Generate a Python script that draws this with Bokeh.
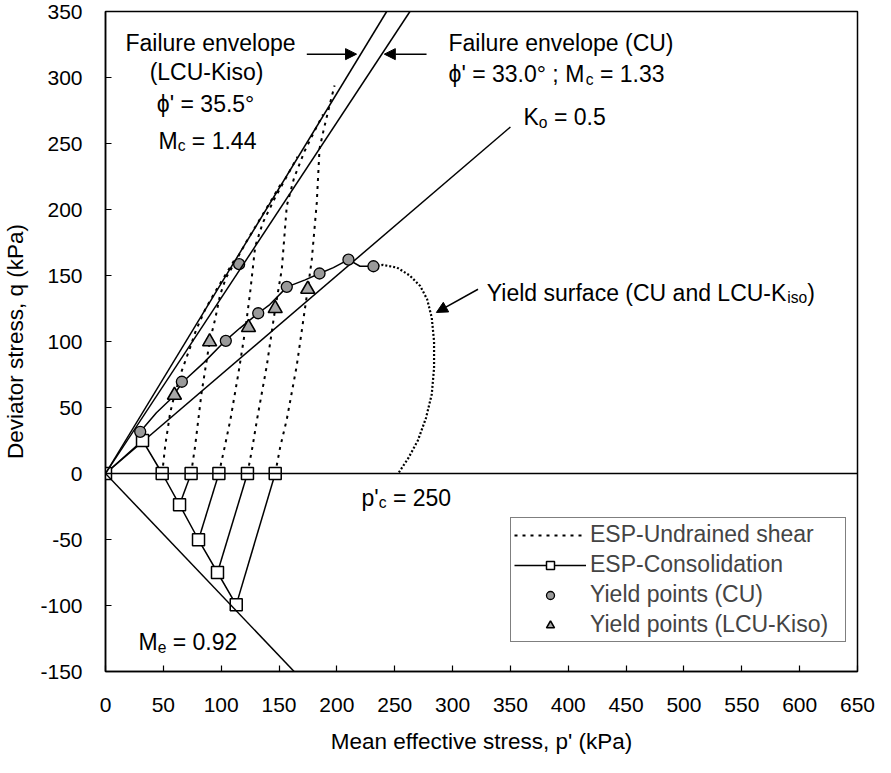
from bokeh.plotting import figure
from bokeh.models import (Range1d, Span, Slope, Label, Arrow, NormalHead, Legend,
                          LegendItem, FixedTicker, PrintfTickFormatter)
from bokeh.embed import file_html
from bokeh.resources import INLINE

FONT = "Liberation Sans"

# ---------------- data ----------------
x_ticks = [0, 50, 100, 150, 200, 250, 300, 350, 400, 450, 500, 550, 600, 650]
y_ticks = [-150, -100, -50, 0, 50, 100, 150, 200, 250, 300, 350]

M_lcu = 1.44      # failure envelope LCU-Kiso
M_cu = 1.33       # failure envelope CU
M_e = 0.92        # extension line
K_o = 0.5
ko_p = [0, 350]

# consolidation stress paths
cons_main_p = [0, 32, 49, 64, 80.4, 96.8, 113]
cons_main_q = [0, 25, 0, -23.7, -50.2, -75, -99.5]
cons_start_p = [74, 98, 122.7, 146.7]
cons_end_p = [64, 80.4, 96.8, 113]
cons_end_q = [-23.7, -50.2, -75, -99.5]
sq_p = [0, 32, 49, 74, 98, 122.7, 146.7, 64, 80.4, 96.8, 113]
sq_q = [0, 25, 0, 0, 0, 0, 0, -23.7, -50.2, -75, -99.5]

# undrained shear effective stress paths
u1_p = [49, 51.6, 55.9, 59.6, 66, 73, 78, 86, 95, 104, 113]
u1_q = [0, 21, 46, 59.3, 78, 95, 108, 124, 138, 151, 164]
u2_p = [74, 77.5, 83, 90, 94.8, 99, 104, 112, 122, 133, 144, 152]
u2_q = [0, 21, 61, 99.8, 117, 135, 148, 160, 176, 192, 208, 220]
u3_p = [98, 103, 108, 115, 121, 125, 129.4, 136, 146, 156, 166]
u3_q = [0, 20, 41, 76.5, 110, 137, 172, 190, 208, 224, 240]
u4_p = [122.7, 127, 131, 139.4, 146.7, 152.4, 156.7, 163, 172, 181, 188]
u4_q = [0, 20, 41, 81.6, 125, 154.8, 202.8, 224, 244, 260, 272]
u5_p = [146.7, 151, 156.7, 165.3, 174.8, 178.3, 182.6, 185, 189, 194, 198]
u5_q = [0, 20, 41, 81.6, 139.6, 162, 205, 246, 262, 280, 294]

# yield points
cu_p = [30, 66, 104, 115.5, 132, 156.7, 185, 210, 231.6]
cu_q = [31.6, 69.5, 100.5, 158.6, 121.4, 141.4, 151.5, 162, 157]
lcu_p = [59.6, 90, 123.6, 146.7, 174.8]
lcu_q = [59.3, 99.8, 110.6, 125, 139.6]

# yield surface: solid part through CU yield points, dotted continuation
ys_p = [30, 44, 56, 67, 85, 103.5, 116, 132, 142, 157, 172.6, 185, 197, 210, 220, 231.6]
ys_q = [31.6, 46, 56, 69.5, 84, 100.5, 110, 121.4, 128, 141.4, 146.7, 151.5, 156, 162, 157, 157]
yd_p = [231.6, 240, 252, 263, 272, 278, 282, 284, 284, 282, 277, 270, 262, 253]
yd_q = [157, 158, 156, 150, 142, 132, 118, 100, 80, 60, 42, 25, 12, 0]

# ---------------- figure ----------------
p = figure(frame_width=752, frame_height=660,
           x_range=Range1d(0, 650), y_range=Range1d(-150, 350),
           output_backend="svg", toolbar_location=None,
           min_border_left=104, min_border_right=19,
           min_border_top=11, min_border_bottom=86)
p.grid.visible = False
p.outline_line_color = "black"
p.outline_line_width = 1.5
p.background_fill_color = "white"
p.border_fill_color = "white"

for ax in (p.xaxis[0], p.yaxis[0]):
    ax.axis_line_width = 1.5
    ax.major_tick_in = 6
    ax.major_tick_out = 0
    ax.major_tick_line_width = 1.2
    ax.minor_tick_line_color = None
    ax.major_label_text_font = FONT
    ax.major_label_text_font_size = "21px"
    ax.major_label_text_color = "black"
    ax.axis_label_text_font = FONT
    ax.axis_label_text_font_size = "22.5px"
    ax.axis_label_text_font_style = "normal"
    ax.axis_label_text_color = "black"
    ax.formatter = PrintfTickFormatter(format="%d")

p.xaxis.ticker = FixedTicker(ticks=x_ticks)
p.yaxis.ticker = FixedTicker(ticks=y_ticks)
p.xaxis.axis_label = "Mean effective stress, p' (kPa)"
p.yaxis.axis_label = "Deviator stress, q (kPa)"
p.xaxis.major_label_standoff = 26
p.yaxis.major_label_standoff = 23
p.xaxis.axis_label_standoff = 14
p.yaxis.axis_label_standoff = 9

# reference lines
p.add_layout(Span(location=0, dimension="width", line_color="black", line_width=1.5))
p.add_layout(Slope(gradient=M_lcu, y_intercept=0, line_color="black", line_width=1.5))
p.add_layout(Slope(gradient=M_cu, y_intercept=0, line_color="black", line_width=1.5))
p.add_layout(Slope(gradient=-M_e, y_intercept=0, line_color="black", line_width=1.5))
eta_ko = 3 * (1 - K_o) / (1 + 2 * K_o)
p.line(ko_p, [eta_ko * v for v in ko_p], line_color="black", line_width=1.5)

# yield surface
p.line(ys_p, ys_q, line_color="black", line_width=1.5)
p.line(yd_p, yd_q, line_color="black", line_width=2.2, line_dash="2 2")

# undrained paths
r_und = p.multi_line(xs=[u1_p, u2_p, u3_p, u4_p, u5_p], ys=[u1_q, u2_q, u3_q, u4_q, u5_q],
                     line_color="black", line_width=2, line_dash="3 5")

# consolidation paths
cons_xs = [cons_main_p] + [[a, b] for a, b in zip(cons_start_p, cons_end_p)]
cons_ys = [cons_main_q] + [[0, b] for b in cons_end_q]
r_cons = p.multi_line(xs=cons_xs, ys=cons_ys, line_color="black", line_width=1.5)
r_sq = p.scatter(sq_p, sq_q, marker="square", size=12, fill_color="white",
                 line_color="black", line_width=1.5)

r_cu = p.scatter(cu_p, cu_q, marker="circle", size=11, fill_color="#9a9a9a",
                 line_color="black", line_width=1.3)
r_lcu = p.scatter(lcu_p, lcu_q, marker="triangle", size=14, fill_color="#a8a8a8",
                  line_color="black", line_width=1.6)

# ---------------- texts ----------------
W = {' ': 278, "'": 191, '(': 333, ')': 333, '-': 333, '.': 278, ';': 278, '=': 584,
     '°': 400, 'A': 667, 'C': 722, 'E': 667, 'F': 611, 'K': 667, 'L': 556, 'M': 833,
     'P': 667, 'S': 667, 'U': 722, 'Y': 667, 'a': 556, 'c': 500, 'd': 556, 'e': 556,
     'f': 278, 'h': 556, 'i': 222, 'l': 222, 'n': 556, 'o': 556, 'p': 556, 'r': 333,
     's': 500, 'u': 556, 'v': 500, 'y': 500, 'ϕ': 620}


def tw(s, size):
    return sum(W.get(ch, 556) for ch in s) * size / 1000.0


def rich(x, y, segs, size=23, align="left"):
    total = sum(tw(t, size * (0.68 if k == "sub" else 1)) for t, k in segs)
    off = -total / 2 if align == "center" else 0
    for t, k in segs:
        s = size * (0.68 if k == "sub" else 1)
        stripped = t.lstrip(" ")
        off += tw(t[:len(t) - len(stripped)], s)
        p.add_layout(Label(x=x, y=y, x_offset=off, y_offset=-5 if k == "sub" else 0,
                           text=stripped, text_font=FONT, text_font_size=f"{s:.1f}px",
                           text_color="black", text_baseline="alphabetic",
                           text_align="left"))
        off += tw(stripped, s)


rich(90.75, 326.5, [("Failure envelope", "n")], align="center")
rich(87.3, 303.8, [("(LCU-Kiso)", "n")], align="center")
rich(44.4, 279.8, [("ϕ' = 35.5°", "n")])
rich(45.8, 252, [("M", "n"), ("c", "sub"), (" = 1.44", "n")])
rich(296.5, 326.5, [("Failure envelope (CU)", "n")])
rich(296.5, 302.5, [("ϕ' = 33.0° ; M", "n"), ("c", "sub"), (" = 1.33", "n")])
rich(361.3, 269.7, [("K", "n"), ("o", "sub"), (" = 0.5", "n")])
rich(329.6, 137, [("Yield surface (CU and LCU-K", "n"), ("iso", "sub"), (")", "n")])
rich(221.3, -18.2, [("p'", "n"), ("c", "sub"), (" = 250", "n")])
rich(28.5, -128, [("M", "n"), ("e", "sub"), (" = 0.92", "n")])

# arrows
for (xs, xe, ys_, ye) in [(174, 217, 317.7, 317.7), (277.5, 241, 317.7, 317.7),
                          (322, 286, 139.6, 122)]:
    p.add_layout(Arrow(x_start=xs, y_start=ys_, x_end=xe, y_end=ye,
                       line_color="black", line_width=1.5,
                       end=NormalHead(size=11, fill_color="black", line_color="black")))

# ---------------- legend ----------------
legend = Legend(items=[
    LegendItem(label="ESP-Undrained shear", renderers=[r_und]),
    LegendItem(label="ESP-Consolidation", renderers=[r_cons, r_sq]),
    LegendItem(label="Yield points (CU)", renderers=[r_cu]),
    LegendItem(label="Yield points (LCU-Kiso)", renderers=[r_lcu]),
], location=(405, 29))
legend.border_line_color = "black"
legend.border_line_width = 1.5
legend.background_fill_alpha = 1
legend.label_text_font = FONT
legend.label_text_font_size = "23px"
legend.glyph_width = 72
legend.glyph_height = 20
legend.label_height = 24
legend.label_width = 252
legend.spacing = 3
legend.padding = 3
legend.margin = 0
legend.label_standoff = 4
p.add_layout(legend)

open("out.html", "w").write(file_html(p, INLINE))
